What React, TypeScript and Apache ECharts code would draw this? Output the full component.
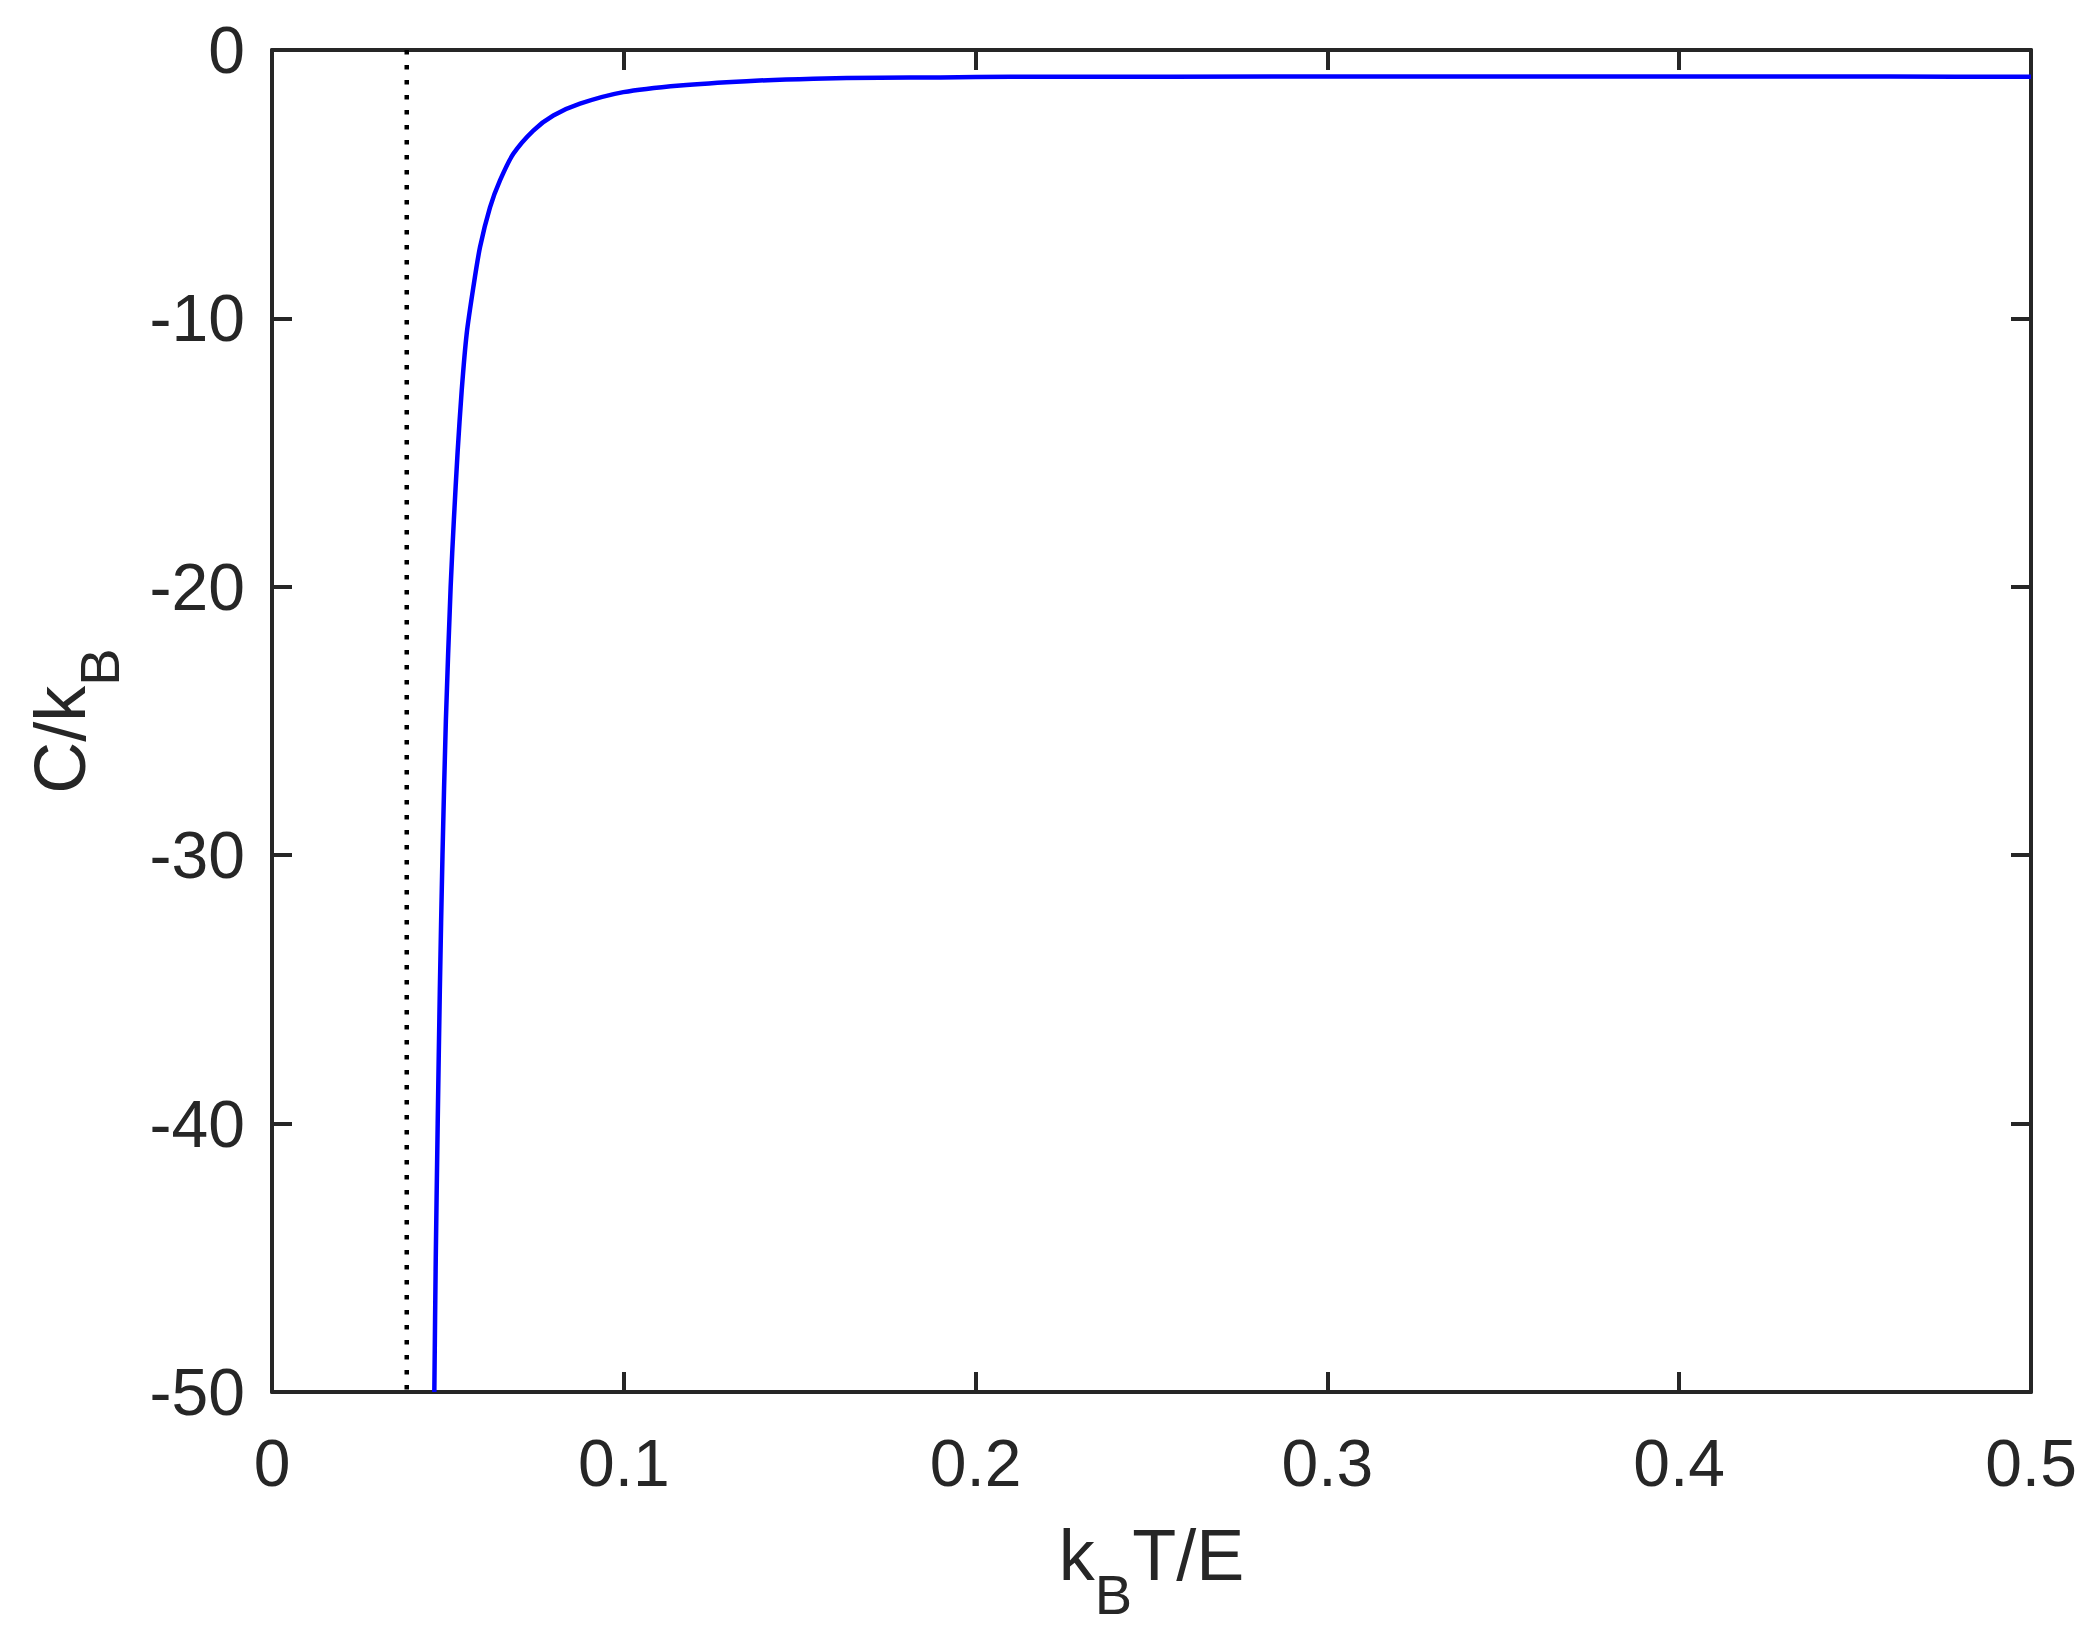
import React, { useEffect, useRef } from 'react'
import * as echarts from 'echarts'

// k_B T / E
const temperature = [
    0.04614, 0.04655, 0.0471, 0.04771, 0.04846, 0.04942, 0.05078, 0.0517, 0.05275, 0.05392, 0.05534, 0.05723,
    0.05912, 0.06197, 0.06481, 0.0686, 0.07428, 0.07997, 0.08755, 0.09987, 0.116, 0.1349, 0.1539, 0.1728, 0.19,
    0.21, 0.3, 0.4, 0.46, 0.5,
]
// C / k_B
const heatCapacity = [
    -50, -45, -40, -35, -30, -25, -20, -17.5, -15, -12.69, -10.57, -8.84, -7.35, -5.86, -4.86, -3.87, -3.0, -2.44,
    -2.0, -1.57, -1.32, -1.16, -1.07, -1.03, -1.02, -1.0, -0.99, -0.99, -0.99, -1.0,
]
// dotted vertical marker
const markerX = [0.0383, 0.0383]
const markerY = [0, -50]

const xRange = [0, 0.5]
const xStep = 0.1
const yRange = [-50, 0]
const yStep = 10

const axisColor = '#262626'
const fontFamily = '"Liberation Sans", Arial, Helvetica, sans-serif'

const nameRich = {
    a: { fontSize: 72, color: axisColor, fontFamily, verticalAlign: 'top' },
    b: { fontSize: 56, color: axisColor, fontFamily, verticalAlign: 'top', padding: [47, 0, 0, 0] },
}

const baseAxis = (position: string, showLabel: boolean) => ({
    type: 'value',
    position,
    axisLine: { show: true, onZero: false, lineStyle: { color: axisColor, width: 4 } },
    axisTick: { show: true, inside: true, length: 20, lineStyle: { color: axisColor, width: 4 } },
    splitLine: { show: false },
    axisLabel: {
        show: showLabel,
        fontSize: 66,
        color: axisColor,
        fontFamily,
    },
})

const App: React.FC = () => {
    const chartRef = useRef(null)

    useEffect(() => {
        const chart = echarts.init(chartRef.current, null, { renderer: 'svg' })

        const curve = temperature.map((t, i) => [t, heatCapacity[i]])
        const marker = markerX.map((t, i) => [t, markerY[i]])

        const xCommon = { min: xRange[0], max: xRange[1], interval: xStep }
        const yCommon = { min: yRange[0], max: yRange[1], interval: yStep }

        const option = {
            animation: false,
            backgroundColor: '#ffffff',
            grid: { left: 272, top: 50, right: 68, bottom: 248 },
            xAxis: [
                {
                    ...baseAxis('bottom', true),
                    ...xCommon,
                    axisLabel: { ...baseAxis('bottom', true).axisLabel, margin: 38 },
                    name: '{a|k}{b|B}{a|T/E}',
                    nameLocation: 'middle',
                    nameGap: 127,
                    nameTextStyle: { rich: nameRich },
                },
                { ...baseAxis('top', false), ...xCommon },
            ],
            yAxis: [
                {
                    ...baseAxis('left', true),
                    ...yCommon,
                    axisLabel: { ...baseAxis('left', true).axisLabel, margin: 27 },
                    name: '{a|C/k}{b|B}',
                    nameLocation: 'middle',
                    nameRotate: 90,
                    nameGap: 145,
                    nameTextStyle: { rich: nameRich },
                },
                { ...baseAxis('right', false), ...yCommon },
            ],
            series: [
                {
                    type: 'line',
                    xAxisIndex: 0,
                    yAxisIndex: 0,
                    data: marker,
                    showSymbol: false,
                    lineStyle: { color: '#000000', width: 4.5, type: [4.5, 10.5], cap: 'butt' },
                },
                {
                    type: 'line',
                    xAxisIndex: 0,
                    yAxisIndex: 0,
                    data: curve,
                    showSymbol: false,
                    smooth: 0.25,
                    lineStyle: { color: '#0000ff', width: 4.5 },
                },
            ],
        }

        chart.setOption(option)

        return () => {
            chart.dispose()
        }
    }, [])

    return (
        <div
            ref={chartRef}
            style={{ position: 'fixed', left: 0, top: 0, width: '2099px', height: '1640px', background: '#fff' }}
        />
    )
}

export default App
